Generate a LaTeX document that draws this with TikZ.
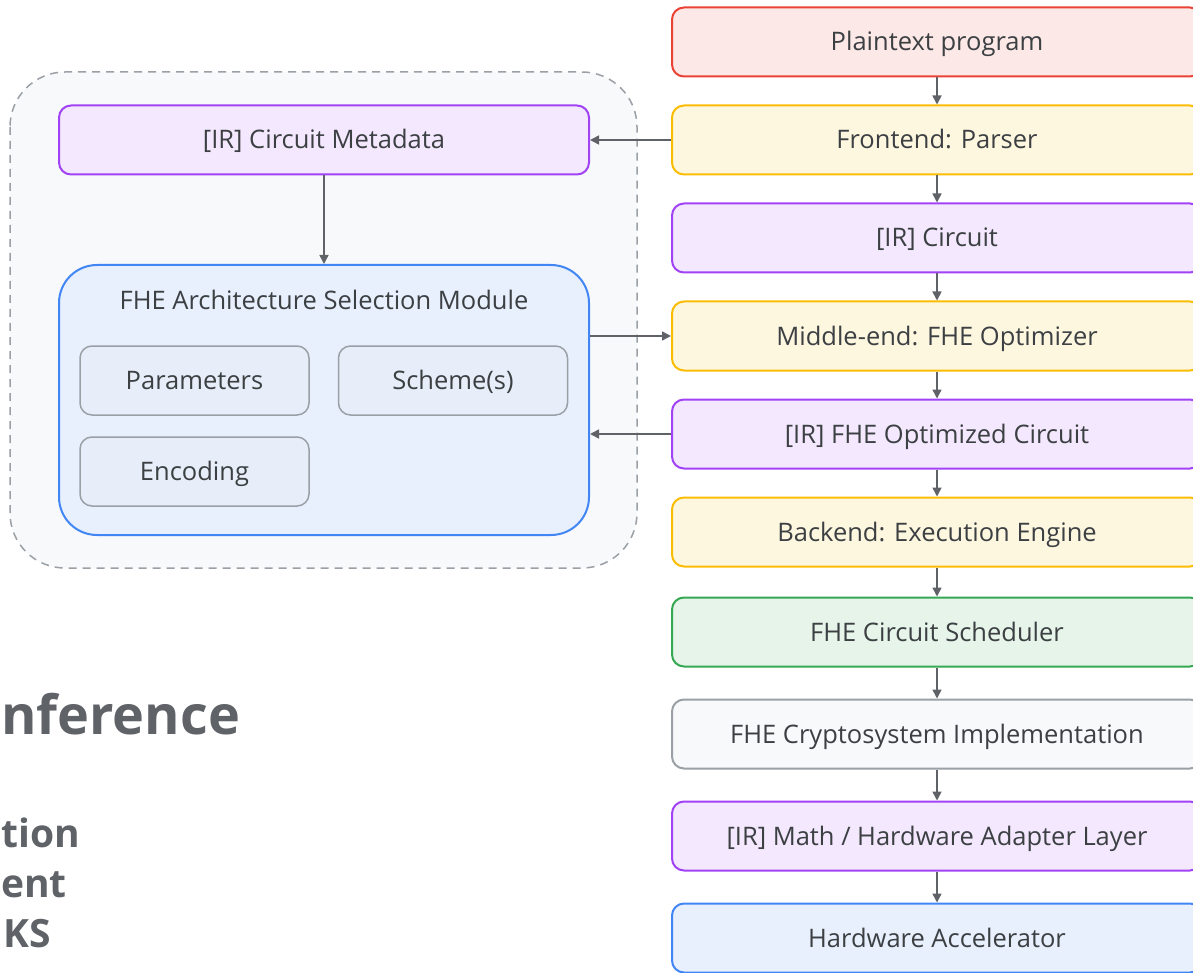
\documentclass[tikz,border=0pt]{standalone}
\usepackage{fontspec}
\setmainfont{Open Sans}
\usetikzlibrary{arrows.meta, positioning, backgrounds}

\definecolor{txtgray}{HTML}{3C4043}
\definecolor{arrowgray}{HTML}{5F6368}
\definecolor{linegray}{HTML}{9AA0A6}
\definecolor{redline}{HTML}{EA4335}
\definecolor{redfill}{HTML}{FCE8E6}
\definecolor{yellowline}{HTML}{FBBC04}
\definecolor{yellowfill}{HTML}{FEF7E0}
\definecolor{purpleline}{HTML}{A142F4}
\definecolor{purplefill}{HTML}{F3E8FD}
\definecolor{greenline}{HTML}{34A853}
\definecolor{greenfill}{HTML}{E6F4EA}
\definecolor{blueline}{HTML}{4285F4}
\definecolor{bluefill}{HTML}{E8F0FE}
\definecolor{grayfill}{HTML}{F8F9FA}
\definecolor{chipfill}{HTML}{E8EEF9}

\begin{document}
\begin{tikzpicture}[
    x=1pt, y=-1pt,
    every node/.style={font=\fontsize{25.5}{29}\selectfont, text=txtgray},
    box/.style={rectangle, rounded corners=12pt, line width=2pt, inner sep=0pt, minimum height=69pt,
                text height=18pt, text depth=0pt},
    flow box/.style={box, minimum width=530pt},
    red box/.style={flow box, draw=redline, fill=redfill},
    yellow box/.style={flow box, draw=yellowline, fill=yellowfill},
    purple box/.style={flow box, draw=purpleline, fill=purplefill},
    green box/.style={flow box, draw=greenline, fill=greenfill},
    gray box/.style={flow box, draw=linegray, fill=grayfill},
    blue box/.style={flow box, draw=blueline, fill=bluefill},
    chip/.style={box, draw=linegray, fill=chipfill, line width=1.5pt, minimum width=229pt},
    link/.style={draw=arrowgray, line width=1.6pt, -{Triangle[length=9pt, width=9pt]}},
    slide text/.style={font=\fontsize{#1}{#1}\selectfont\bfseries, text=arrowgray, inner sep=0pt, anchor=base west}
]
\useasboundingbox (0,0) rectangle (1193,973);
\clip (0,0) rectangle (1193,973);

% Slide text on the left
\node[slide text=54] (title) at (1,734) {nference};
\node[slide text=39] (lineA) at (1,847) {tion};
\node[slide text=39] (lineB) at (1,897) {ent};
\node[slide text=39] (lineC) at (3,947) {KS};

% Dashed container for the architecture selection
\draw[linegray, fill=grayfill, line width=1.5pt, dash pattern=on 8pt off 6pt, rounded corners=55pt]
    (10,72) rectangle (637,568);

% Main pipeline
\node[red box]    (plain)   at (937,42)  {Plaintext program};
\node[yellow box] (front)   at (937,140) {Frontend: Parser};
\node[purple box] (circ)    at (937,238) {[IR] Circuit};
\node[yellow box] (middle)  at (937,336) {Middle-end: FHE Optimizer};
\node[purple box] (optcirc) at (937,434) {[IR] FHE Optimized Circuit};
\node[yellow box] (back)    at (937,532) {Backend: Execution Engine};
\node[green box]  (sched)   at (937,632) {FHE Circuit Scheduler};
\node[gray box]   (crypto)  at (937,734) {FHE Cryptosystem Implementation};
\node[purple box] (math)    at (937,836) {[IR] Math / Hardware Adapter Layer};
\node[blue box]   (hw)      at (937,938) {Hardware Accelerator};

\foreach \a/\b in {plain/front, front/circ, circ/middle, middle/optcirc, optcirc/back,
                   back/sched, sched/crypto, crypto/math, math/hw}
    \draw[link] (\a) -- (\b);

% Left side: metadata and selection module
\node[purple box] (meta) at (324,140) {[IR] Circuit Metadata};
\node[box, draw=blueline, fill=bluefill, rounded corners=38pt, minimum width=530pt, minimum height=270pt]
    (arch) at (324,400) {};
\node[anchor=center, text height=18pt, text depth=0pt] (archtitle) at (324,301) {FHE Architecture Selection Module};
\node[chip] (params)  at (194.5,380.5) {Parameters};
\node[chip] (scheme)  at (453,380.5)   {Scheme(s)};
\node[chip] (encode)  at (194.5,471.5) {Encoding};

\draw[link] (meta) -- (arch);
\draw[link] (front) -- (meta);
\draw[link] (arch.east |- middle) -- (middle);
\draw[link] (optcirc) -- (arch.east |- optcirc);
\end{tikzpicture}
\end{document}
